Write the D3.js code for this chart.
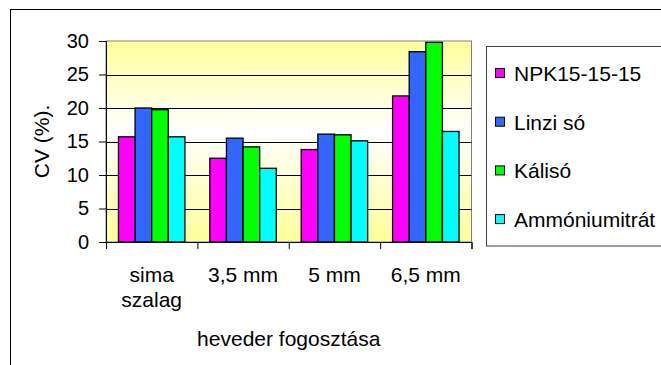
<!DOCTYPE html>
<html>
<head>
<meta charset="utf-8">
<script src="https://cdn.jsdelivr.net/npm/d3@7"></script>
<style>
  html, body { margin: 0; padding: 0; background: #fff; }
  svg { display: block; }
  text { font-family: "Liberation Sans", Arial, sans-serif; fill: #000; }
</style>
</head>
<body>
<svg id="chart" width="661" height="365"></svg>
<script>
const categories = [["sima", "szalag"], ["3,5 mm"], ["5 mm"], ["6,5 mm"]];
const seriesNames = ["NPK15-15-15", "Linzi só", "Kálisó", "Ammóniumitrát"];
const seriesColors = ["#FF00FF", "#3366FF", "#00FF00", "#00FFFF"];
const npk = [15.7, 12.5, 13.8, 21.8];
const linzi = [20.0, 15.5, 16.1, 28.4];
const kali = [19.75, 14.2, 16.0, 29.8];
const ammon = [15.7, 11.0, 15.1, 16.5];
const yTicks = [0, 5, 10, 15, 20, 25, 30];
const xTitle = "heveder fogosztása";
const yTitle = "CV (%).";

const seriesValues = [npk, linzi, kali, ammon];
const svg = d3.select("#chart");

// outer chart border
svg.append("rect").attr("x", 10.5).attr("y", 9.5).attr("width", 700).attr("height", 400)
  .attr("fill", "#fff").attr("stroke", "#000").attr("stroke-width", 1);

const plot = { left: 106, right: 471.5, top: 41, bottom: 242 };
const catKeys = categories.map((c, i) => i);

const x0 = d3.scaleBand().domain(catKeys).range([plot.left, plot.right]).padding(0);
const W = x0.bandwidth();
const bw = W / (4 + 1.5);
const x1 = d3.scaleBand().domain(d3.range(seriesNames.length))
  .range([0.75 * bw, W - 0.75 * bw]).padding(0);
const y = d3.scaleLinear().domain([0, 30]).range([plot.bottom, plot.top]);

// gradient background
const defs = svg.append("defs");
const grad = defs.append("linearGradient").attr("id", "bg").attr("x1", 0).attr("y1", 0).attr("x2", 0).attr("y2", 1);
grad.append("stop").attr("offset", "0%").attr("stop-color", "#FFFF99");
grad.append("stop").attr("offset", "45%").attr("stop-color", "#FFFFFF");
grad.append("stop").attr("offset", "100%").attr("stop-color", "#FFFF99");

svg.append("rect").attr("x", plot.left).attr("y", plot.top)
  .attr("width", plot.right - plot.left).attr("height", plot.bottom - plot.top)
  .attr("fill", "url(#bg)").attr("stroke", "#808080").attr("stroke-width", 1);

// gridlines
svg.append("g").selectAll("line").data(yTicks.filter(t => t > 0 && t < 30)).join("line")
  .attr("x1", plot.left).attr("x2", plot.right)
  .attr("y1", d => Math.round(y(d)) + 0.5).attr("y2", d => Math.round(y(d)) + 0.5)
  .attr("stroke", "#000").attr("stroke-width", 1);

// bars
const groups = svg.append("g").selectAll("g").data(catKeys).join("g")
  .attr("transform", d => `translate(${x0(d)},0)`);
groups.selectAll("rect").data(ci => seriesValues.map((vals, si) => ({ si, v: vals[ci] }))).join("rect")
  .attr("x", d => x1(d.si))
  .attr("y", d => y(d.v))
  .attr("width", x1.bandwidth())
  .attr("height", d => y(0) - y(d.v))
  .attr("fill", d => seriesColors[d.si])
  .attr("stroke", "#000").attr("stroke-width", 1.3);

// y axis
const yAxis = svg.append("g").attr("transform", `translate(${plot.left},0)`)
  .call(d3.axisLeft(y).tickValues(yTicks).tickSize(7).tickPadding(10).tickFormat(d3.format("d")));
yAxis.selectAll("text").attr("font-size", 20).attr("font-family", "Liberation Sans, Arial, sans-serif");
yAxis.select(".domain").attr("stroke", "#000");

// x axis (boundary ticks)
const xb = d3.scaleLinear().domain([0, 4]).range([plot.left, plot.right]);
const xAxis = svg.append("g").attr("transform", `translate(0,${plot.bottom})`)
  .call(d3.axisBottom(xb).tickValues([0, 1, 2, 3, 4]).tickSize(7).tickFormat(""));
xAxis.select(".domain").attr("stroke", "#000");

// category labels
const catLab = svg.append("g").selectAll("text").data(catKeys).join("text")
  .attr("x", d => x0(d) + W / 2).attr("y", 282)
  .attr("text-anchor", "middle").attr("font-size", 21);
catLab.selectAll("tspan").data(d => categories[d]).join("tspan")
  .attr("x", function () { return d3.select(this.parentNode).attr("x"); })
  .attr("dy", (d, i) => i === 0 ? 0 : 25)
  .text(d => d);

// axis titles
svg.append("text").attr("x", (plot.left + plot.right) / 2).attr("y", 346)
  .attr("text-anchor", "middle").attr("font-size", 21).text(xTitle);
svg.append("text").attr("transform", `translate(49,${(plot.top + plot.bottom) / 2}) rotate(-90)`)
  .attr("text-anchor", "middle").attr("font-size", 21).text(yTitle);

// legend
const lg = svg.append("g");
lg.append("rect").attr("x", 486.5).attr("y", 46.5).attr("width", 300).attr("height", 199.5)
  .attr("fill", "#fff").attr("stroke", "#404040").attr("stroke-width", 1);
const items = lg.selectAll("g.item").data(seriesNames).join("g").attr("class", "item")
  .attr("transform", (d, i) => `translate(0,${81 + i * 48.7})`);
items.append("rect").attr("x", 495.5).attr("y", -12.5).attr("width", 9).attr("height", 9)
  .attr("fill", (d, i) => seriesColors[i]).attr("stroke", "#000").attr("stroke-width", 1);
items.append("text").attr("x", 514).attr("y", 0).attr("font-size", 21).text(d => d);
</script>
</body>
</html>
